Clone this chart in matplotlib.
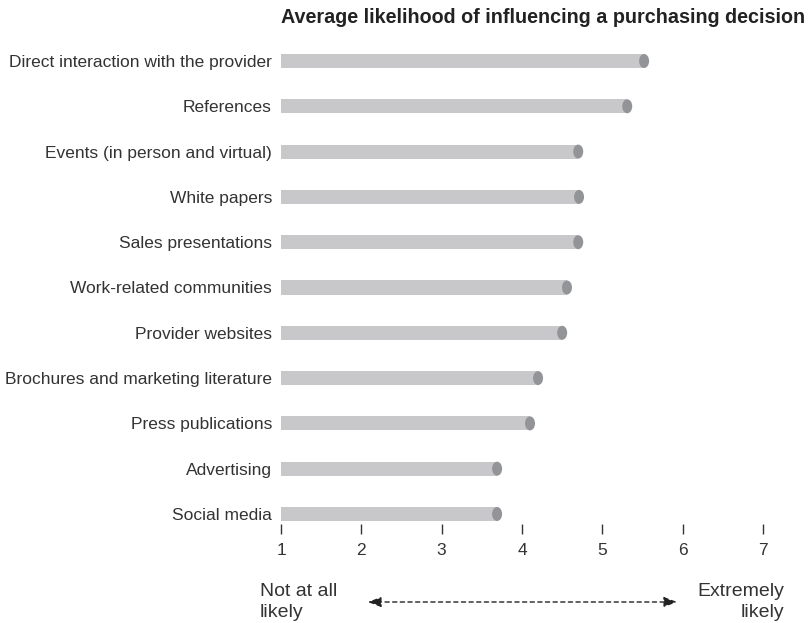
import matplotlib
matplotlib.use("Agg")
import matplotlib.pyplot as plt
from matplotlib.patches import Ellipse, FancyArrowPatch

categories = ["Direct interaction with the provider", "References",
              "Events (in person and virtual)", "White papers",
              "Sales presentations", "Work-related communities",
              "Provider websites", "Brochures and marketing literature",
              "Press publications", "Advertising", "Social media"]
values = [5.52, 5.31, 4.70, 4.71, 4.70, 4.56, 4.50, 4.20, 4.10, 3.69, 3.69]
xticks = [1, 2, 3, 4, 5, 6, 7]
title = "Average likelihood of influencing a purchasing decision"

plt.rcParams['font.family'] = ['Liberation Sans', 'DejaVu Sans']
TXT = "#333333"
BAR = "#c8c8ca"
CAP = "#939498"

W, H = 809, 623
fig = plt.figure(figsize=(W/100, H/100), dpi=100)
# axes from x=1 at px 281 to x=7 at px 763; vertical px 40..524
ax = fig.add_axes([281/W, 1-524/H, (763-281)/W, (524-40)/H])
n = len(categories)
ys = list(range(n-1, -1, -1))
step = 45.3
ax.set_xlim(1, 7)
ax.set_ylim(-(524-514)/step, (n-1) + (61-40)/step)

bh = 14/step
ax.barh(ys, [v-1 for v in values], left=1, height=bh, color=BAR, zorder=2)
ew = 10/80.33
for y, v in zip(ys, values):
    ax.add_patch(Ellipse((v, y), ew, bh, color=CAP, zorder=3, lw=0))

ax.set_yticks(ys)
ax.set_yticklabels(categories, fontsize=12.5, color=TXT)
ax.tick_params(axis='y', length=0, pad=6.5)
ax.set_xticks(xticks)
ax.set_xticklabels([str(t) for t in xticks], fontsize=12.5, color=TXT)
ax.tick_params(axis='x', length=7, width=1, color=TXT, pad=7, direction='out')
for s in ax.spines.values():
    s.set_visible(False)

fig.text(805/W, 1-23/H, title, ha='right', va='baseline', fontsize=14.2,
         fontweight='bold', color='#222222')

fig.text(260/W, 1-596/H, "Not at all", ha='left', va='baseline', fontsize=14, color=TXT)
fig.text(260/W, 1-617/H, "likely", ha='left', va='baseline', fontsize=14, color=TXT)
fig.text(784/W, 1-596/H, "Extremely", ha='right', va='baseline', fontsize=14, color=TXT)
fig.text(784/W, 1-617/H, "likely", ha='right', va='baseline', fontsize=14, color=TXT)
fig.patches.append(FancyArrowPatch(
    (365/W, 1-602/H), (680/W, 1-602/H), transform=fig.transFigure,
    arrowstyle='<|-|>,head_length=8,head_width=3', linestyle=(0, (3, 2.5)),
    color='#222222', lw=1, mutation_scale=1))

fig.savefig("out.png", dpi=100)
